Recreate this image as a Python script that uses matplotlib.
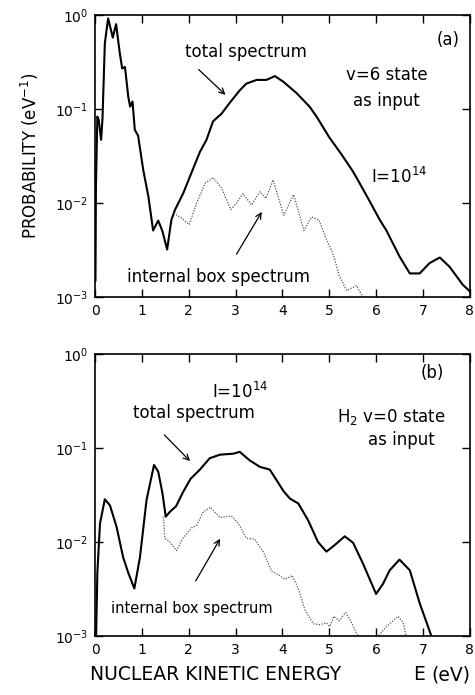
import numpy as np
import matplotlib
matplotlib.use("Agg")
import matplotlib.pyplot as plt

# ---------------- data ----------------
# panel (a): v=6 state as input
a_tot_E = [0.01, 0.02, 0.05, 0.08, 0.13, 0.16, 0.21, 0.28, 0.38, 0.45, 0.53, 0.58, 0.64, 0.71,
           0.75, 0.80, 0.85, 0.92, 1.03, 1.14, 1.24, 1.35, 1.44, 1.54, 1.63, 1.71, 1.81, 1.88,
           2.06, 2.24, 2.38, 2.52, 2.70, 2.88, 3.09, 3.23, 3.45, 3.66, 3.84, 4.02, 4.30, 4.58,
           4.73, 5.00, 5.26, 5.50, 5.65, 5.86, 6.08, 6.22, 6.50, 6.72, 6.93, 7.14, 7.36, 7.57,
           7.85, 8.00]
a_tot_P = [0.0015, 0.0148, 0.083, 0.076, 0.047, 0.079, 0.50, 0.92, 0.575, 0.80, 0.39, 0.27,
           0.28, 0.135, 0.106, 0.12, 0.060, 0.052, 0.0224, 0.0117, 0.0051, 0.0065, 0.0050,
           0.0032, 0.0066, 0.0085, 0.0107, 0.0126, 0.021, 0.035, 0.047, 0.074, 0.089, 0.117,
           0.158, 0.186, 0.204, 0.204, 0.224, 0.195, 0.148, 0.106, 0.083, 0.050, 0.033, 0.0219,
           0.0162, 0.0105, 0.0066, 0.0051, 0.0027, 0.00178, 0.00178, 0.00229, 0.00263, 0.00209,
           0.00135, 0.00115]
a_box_E = [1.68, 1.85, 2.01, 2.17, 2.35, 2.52, 2.70, 2.90, 3.02, 3.16, 3.34, 3.52, 3.65, 3.80,
           4.03, 4.24, 4.46, 4.62, 4.78, 4.94, 5.08, 5.22, 5.37, 5.58, 5.72, 5.80]
a_box_P = [0.0078, 0.0069, 0.0059, 0.0100, 0.0162, 0.0186, 0.0145, 0.0085, 0.0100, 0.0126,
           0.0095, 0.0132, 0.0112, 0.0176, 0.0074, 0.0123, 0.0051, 0.0071, 0.0066, 0.0041,
           0.0029, 0.00166, 0.00117, 0.00132, 0.0010, 0.0009]

# panel (b): H2 v=0 state as input
b_tot_E = [0.02, 0.05, 0.107, 0.21, 0.32, 0.46, 0.60, 0.71, 0.84, 0.96, 1.10, 1.26, 1.35, 1.44,
           1.51, 1.60, 1.73, 1.88, 2.04, 2.24, 2.45, 2.67, 2.95, 3.09, 3.30, 3.52, 3.73, 3.87,
           4.02, 4.16, 4.34, 4.55, 4.76, 4.94, 5.12, 5.33, 5.51, 5.72, 6.00, 6.15, 6.29, 6.50,
           6.72, 6.93, 7.18, 7.25]
b_tot_P = [0.0008, 0.0047, 0.0158, 0.0285, 0.0245, 0.0145, 0.0069, 0.0047, 0.0032, 0.0069,
           0.028, 0.066, 0.056, 0.033, 0.0186, 0.021, 0.024, 0.034, 0.047, 0.059, 0.078, 0.085,
           0.087, 0.091, 0.074, 0.063, 0.059, 0.046, 0.035, 0.029, 0.0257, 0.017, 0.0100,
           0.0079, 0.0093, 0.0115, 0.0098, 0.0059, 0.0028, 0.0036, 0.0050, 0.0065, 0.0050,
           0.00224, 0.0010, 0.0008]
b_box_E = [1.46, 1.49, 1.60, 1.74, 1.88, 2.06, 2.17, 2.31, 2.46, 2.67, 2.91, 3.06, 3.23, 3.41,
           3.59, 3.77, 3.94, 4.05, 4.21, 4.34, 4.48, 4.66, 4.80, 4.94, 5.01, 5.10, 5.21, 5.35,
           5.47, 5.61, 5.65, np.nan, 6.00, 6.05, 6.22, 6.47, 6.58, 6.64, 6.66]
b_box_P = [0.0186, 0.011, 0.0100, 0.0081, 0.011, 0.0141, 0.0151, 0.0209, 0.0234, 0.0182,
           0.019, 0.0158, 0.011, 0.0107, 0.0079, 0.0049, 0.0044, 0.0040, 0.0044, 0.0032,
           0.0019, 0.00135, 0.00132, 0.00138, 0.00126, 0.00162, 0.00145, 0.00178, 0.00141,
           0.0010, 0.0009, np.nan, 0.0009, 0.0010, 0.00126, 0.00162, 0.00138, 0.0010, 0.0009]

x_ticks = [0, 1, 2, 3, 4, 5, 6, 7, 8]
y_ticks = [1e-3, 1e-2, 1e-1, 1e0]
y_ticklabels = [r"$10^{-3}$", r"$10^{-2}$", r"$10^{-1}$", r"$10^{0}$"]

# ---------------- figure ----------------
plt.rcParams['font.family'] = ['DejaVu Sans']
plt.rcParams['mathtext.fontset'] = 'dejavusans'
fig = plt.figure(figsize=(4.75, 6.95), dpi=100)
ax1 = fig.add_axes([0.2, 0.5727, 0.789, 0.4057])
ax2 = fig.add_axes([0.2, 0.0849, 0.789, 0.4057])

for ax in (ax1, ax2):
    ax.set_yscale('log')
    ax.set_xlim(0, 8)
    ax.set_ylim(1e-3, 1e0)
    ax.set_xticks(x_ticks)
    ax.set_xticklabels([str(t) for t in x_ticks], fontsize=10)
    ax.set_yticks(y_ticks)
    ax.set_yticklabels(y_ticklabels, fontsize=10)
    ax.yaxis.set_minor_locator(matplotlib.ticker.NullLocator())
    ax.tick_params(direction='in', length=6, width=1.0, top=True, right=True, pad=5)
    for s in ax.spines.values():
        s.set_linewidth(1.2)

line_kw = dict(color='black', lw=1.5, solid_joinstyle='round')
dot_kw = dict(color='#555555', lw=0.9, ls=(0, (1, 1.2)))
ax1.plot(a_tot_E, a_tot_P, **line_kw)
ax1.plot(a_box_E, a_box_P, **dot_kw)
ax2.plot(b_tot_E, b_tot_P, **line_kw)
ax2.plot(b_box_E, b_box_P, **dot_kw)

fs = 12
arr = dict(arrowstyle='->', lw=0.9, color='black')
# panel (a) annotations
ax1.text(3.22, 0.40, "total spectrum", ha='center', va='center', fontsize=fs)
ax1.annotate("", xy=(2.83, 10**-0.87), xytext=(2.17, 10**-0.56), arrowprops=arr)
ax1.text(7.53, 10**-0.27, "(a)", ha='center', va='center', fontsize=fs)
ax1.text(6.22, 10**-0.64, "v=6 state", ha='center', va='center', fontsize=fs)
ax1.text(6.22, 10**-0.91, "as input", ha='center', va='center', fontsize=fs)
ax1.text(6.5, 10**-1.72, r"I=10$^{14}$", ha='center', va='center', fontsize=fs)
ax1.text(2.63, 10**-2.79, "internal box spectrum", ha='center', va='center', fontsize=fs)
ax1.annotate("", xy=(3.59, 10**-2.07), xytext=(2.99, 10**-2.57), arrowprops=arr)

# panel (b) annotations
ax2.text(3.09, 10**-0.40, r"I=10$^{14}$", ha='center', va='center', fontsize=fs)
ax2.text(2.11, 10**-0.63, "total spectrum", ha='center', va='center', fontsize=fs)
ax2.annotate("", xy=(2.07, 10**-1.16), xytext=(1.44, 10**-0.84), arrowprops=arr)
ax2.text(7.19, 10**-0.20, "(b)", ha='center', va='center', fontsize=fs)
ax2.text(6.32, 10**-0.67, r"H$_2$ v=0 state", ha='center', va='center', fontsize=fs)
ax2.text(6.55, 10**-0.915, "as input", ha='center', va='center', fontsize=fs)
ax2.text(2.07, 10**-2.71, "internal box spectrum", ha='center', va='center', fontsize=10.5)
ax2.annotate("", xy=(2.7, 10**-1.94), xytext=(2.12, 10**-2.44), arrowprops=arr)

# axis labels
ax1.set_ylabel(r"PROBABILITY (eV$^{-1}$)", fontsize=12, labelpad=10)
fig.text(90 / 475, 1 - 675 / 695, "NUCLEAR KINETIC ENERGY", ha='left', va='center', fontsize=13.5)
fig.text(419 / 475, 1 - 675 / 695, "E", ha='center', va='center', fontsize=13.5)
fig.text(470 / 475, 1 - 675 / 695, "(eV)", ha='right', va='center', fontsize=13.5)

fig.savefig("out.png", dpi=100)
